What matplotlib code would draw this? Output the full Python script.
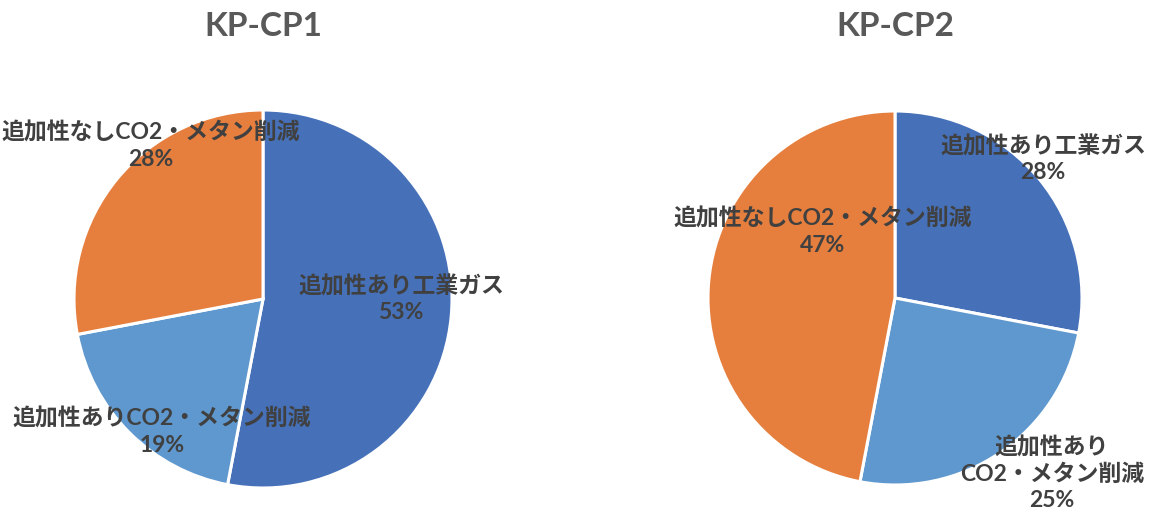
import matplotlib
matplotlib.use("Agg")
import matplotlib.pyplot as plt

# data
titles = ["KP-CP1", "KP-CP2"]
categories = ["追加性あり工業ガス", "追加性ありCO2・メタン削減", "追加性なしCO2・メタン削減"]
cp1_values = [53, 19, 28]
cp2_values = [28, 25, 47]
cp2_labels = ["追加性あり工業ガス", "追加性あり\nCO2・メタン削減", "追加性なしCO2・メタン削減"]

colors = ["#4671B9", "#5E98CE", "#E67F3E"]
W, H = 1173, 515

# layout in pixels: pie center x, center y, radius; label centers
pies = [
    dict(cx=263, cy=299, r=189, labels=categories, values=cp1_values,
         lpos=[(401, 299), (162, 432), (151, 146)]),
    dict(cx=895, cy=298, r=187, labels=cp2_labels, values=cp2_values,
         lpos=[(1043, 159), (1052, 474), (823, 232)]),
]

fig = plt.figure(figsize=(W / 100, H / 100), dpi=100)
lab_font = ["Lato", "Noto Sans CJK JP", "DejaVu Sans"]

for title, p in zip(titles, pies):
    ax = fig.add_axes([(p["cx"] - p["r"]) / W, (H - p["cy"] - p["r"]) / H,
                       2 * p["r"] / W, 2 * p["r"] / H])
    ax.pie(p["values"], colors=colors, startangle=90, counterclock=False,
           radius=1.0, wedgeprops=dict(edgecolor="white", linewidth=2.2))
    ax.set_xlim(-1, 1)
    ax.set_ylim(-1, 1)
    ax.axis("off")

    fig.text(p["cx"] / W, 1 - 26 / H, title, ha="center", va="center",
             fontsize=24, fontweight="bold", color="#595959",
             family=["Lato", "DejaVu Sans"])

    for lab, v, (lx, ly) in zip(p["labels"], p["values"], p["lpos"]):
        fig.text(lx / W, 1 - ly / H, "%s\n%d%%" % (lab, v), ha="center",
                 va="center", fontsize=16.5, fontweight="bold", color="#404040",
                 family=lab_font, linespacing=1.3)

fig.savefig("out.png", dpi=100)
